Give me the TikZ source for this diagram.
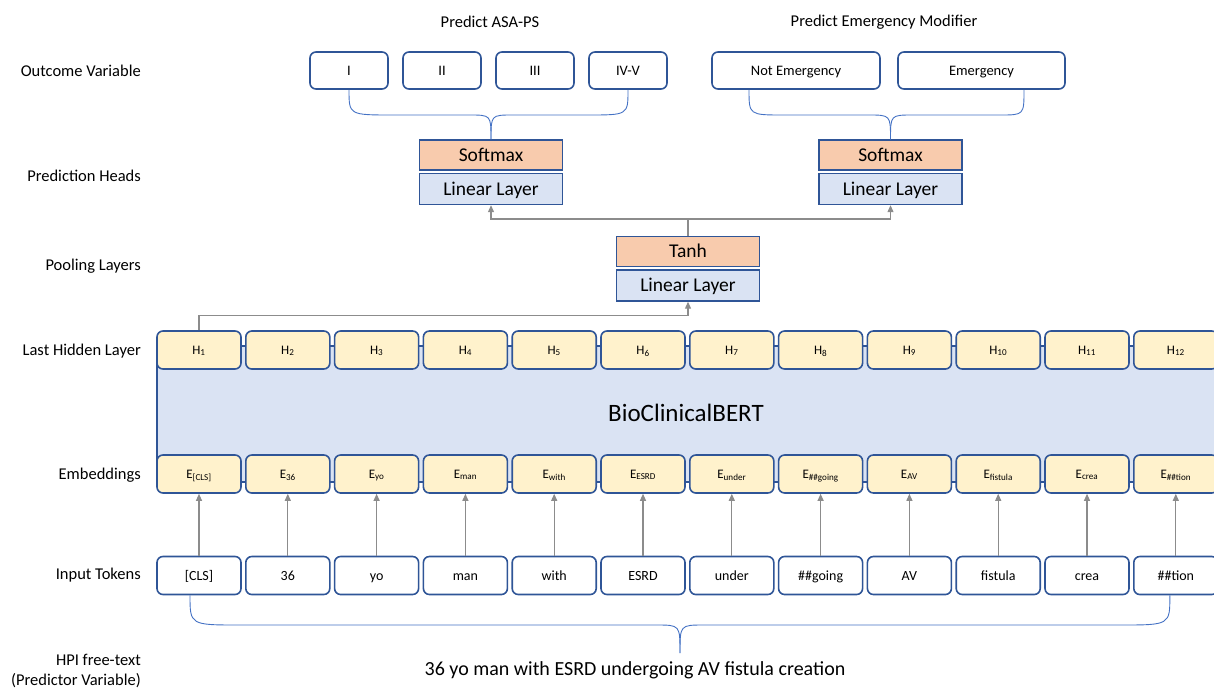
\documentclass[tikz,border=0pt]{standalone}
\usepackage{fontspec}
\setmainfont{Carlito}
\usetikzlibrary{arrows.meta,calc}
\definecolor{boxblue}{HTML}{2F5597}
\definecolor{bracecol}{HTML}{4472C4}
\definecolor{layerfill}{HTML}{DAE3F3}
\definecolor{actfill}{HTML}{F8CBAD}
\definecolor{cellfill}{HTML}{FFF2CC}
\definecolor{arrgray}{HTML}{8C8C8C}
\begin{document}
\begin{tikzpicture}[x=1pt,y=-1pt,
  lbl/.style={anchor=east,font=\fontsize{16.5}{18}\selectfont,inner sep=0},
  toplbl/.style={font=\fontsize{16.5}{18}\selectfont,inner sep=0},
  outbox/.style={draw=boxblue,line width=1.6pt,rounded corners=6pt,fill=white,minimum height=37pt,font=\fontsize{14.5}{16}\selectfont,inner sep=0,text height=12.2pt,text depth=2.9pt},
  cell/.style={draw=boxblue,line width=1.6pt,rounded corners=6pt,fill=cellfill,minimum width=84pt,minimum height=38pt,font=\fontsize{13}{15}\selectfont,inner sep=0,text height=10.9pt,text depth=2.6pt},
  tok/.style={draw=boxblue,line width=1.6pt,rounded corners=6pt,fill=white,minimum width=84pt,minimum height=38pt,font=\fontsize{14}{16}\selectfont,inner sep=0,text height=11.8pt,text depth=2.8pt},
  actbox/.style={draw=boxblue,line width=1.4pt,fill=actfill,minimum width=143pt,minimum height=30pt,font=\fontsize{19.5}{22}\selectfont,inner sep=0,text height=16.4pt,text depth=3.9pt},
  linbox/.style={draw=boxblue,line width=1.4pt,fill=layerfill,minimum width=143pt,minimum height=31pt,font=\fontsize{19.5}{22}\selectfont,inner sep=0,text height=16.4pt,text depth=3.9pt},
  arr/.style={draw=arrgray,line width=1.1pt,-{Triangle[length=7pt,width=6pt]}},
  link/.style={draw=arrgray,line width=1.1pt},
  brace/.style={draw=bracecol,line width=0.9pt}
]
\useasboundingbox (0,0) rectangle (1214,690);

% row labels
\node[lbl] (lOut)  at (141,71)  {Outcome Variable};
\node[lbl] (lHead) at (141,176) {Prediction Heads};
\node[lbl] (lPool) at (141,266) {Pooling Layers};
\node[lbl] (lHid)  at (141,351) {Last Hidden Layer};
\node[lbl] (lEmb)  at (141,475) {Embeddings};
\node[lbl] (lTok)  at (141,575) {Input Tokens};
\node[lbl] (lHPI)  at (141,660) {HPI free-text};
\node[lbl] (lPred) at (141,681) {(Predictor Variable)};

% task titles
\node[toplbl] (tAsa) at (490,22) {Predict ASA-PS};
\node[toplbl] (tEm)  at (884,22) {Predict Emergency Modifier};

% outcome classes
\node[outbox,minimum width=78pt]  (o1) at (349,70.5) {I};
\node[outbox,minimum width=78pt]  (o2) at (442,70.5) {II};
\node[outbox,minimum width=78pt]  (o3) at (535,70.5) {III};
\node[outbox,minimum width=78pt]  (o4) at (628,70.5) {IV-V};
\node[outbox,minimum width=168pt] (o5) at (796,70.5) {Not Emergency};
\node[outbox,minimum width=167pt] (o6) at (981.5,70.5) {Emergency};

% prediction heads
\node[actbox] (sm1) at (491,155) {Softmax};
\node[linbox] (ll1) at (491,189) {Linear Layer};
\node[actbox] (sm2) at (890.5,155) {Softmax};
\node[linbox] (ll2) at (890.5,189) {Linear Layer};

% pooler
\node[actbox] (tanh) at (688,251.5) {Tanh};
\node[linbox] (pl)   at (688,285.5) {Linear Layer};

% encoder body
\path[draw=boxblue,line width=1.6pt,fill=layerfill] (157,346) rectangle (1240,482);
\node[font=\fontsize{25}{28}\selectfont] (bert) at (686,413) {BioClinicalBERT};

% hidden states, embeddings and tokens
\foreach \w [count=\i] in {{[CLS]},36,yo,man,with,ESRD,under,\#\#going,AV,fistula,crea,\#\#tion}{
  \pgfmathsetmacro\cx{199+88.8*(\i-1)}
  \node[cell] (h\i) at (\cx,350) {H\textsubscript{\i}};
  \node[cell] (e\i) at (\cx,474) {E\textsubscript{\w}};
  \node[tok]  (t\i) at (\cx,575.5) {\w};
  \draw[arr] (t\i) -- (e\i);
}

% pooling connections
\draw[arr] (h1.north) -- ++(0,-15) -| (pl.south);
\coordinate (split) at (688,219);
\draw[link] (tanh.north) -- (split);
\draw[arr] (split) -| (ll1.south);
\draw[arr] (split) -| (ll2.south);

% braces to outcome classes
\draw[brace] (o1.south) .. controls (349,115) .. (393,115) -- (469,115) .. controls (491,115) .. (sm1.north);
\draw[brace] (o4.south) .. controls (628,115) .. (588,115) -- (513,115) .. controls (491,115) .. (sm1.north);
\draw[brace] ([xshift=-47pt]o5.south) .. controls (749,115) .. (784,115) -- (868,115) .. controls (890.5,115) .. (sm2.north);
\draw[brace] ([xshift=42.5pt]o6.south) .. controls (1024,115) .. (1000,115) -- (913,115) .. controls (890.5,115) .. (sm2.north);

% brace over the input text
\coordinate (btip) at (680,653);
\draw[brace] ([xshift=-9pt]t1.south) .. controls (190,625) .. (240,625) -- (656,625) .. controls (680,625) .. (btip);
\draw[brace] ([xshift=-6pt]t12.south) .. controls (1170,625) .. (1120,625) -- (704,625) .. controls (680,625) .. (btip);

\node[font=\fontsize{20}{24}\selectfont] (sent) at (635,670) {36 yo man with ESRD undergoing AV fistula creation};
\end{tikzpicture}
\end{document}
